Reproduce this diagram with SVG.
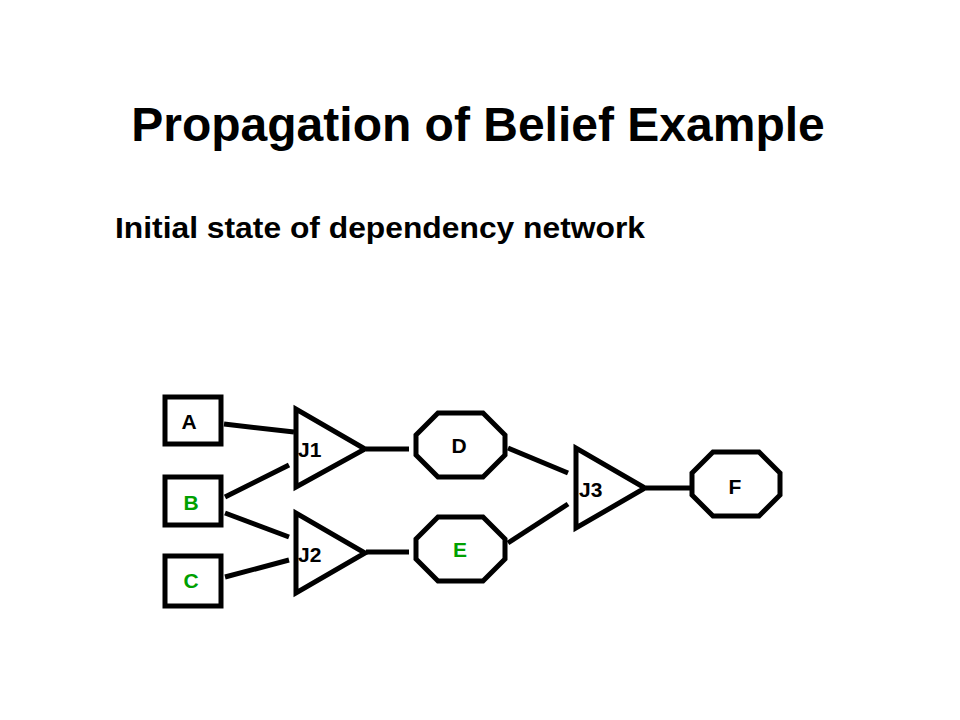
<svg xmlns="http://www.w3.org/2000/svg" width="960" height="720" viewBox="0 0 960 720">
<style>
.shape{fill:#fff;stroke:#000;stroke-width:5;stroke-linejoin:miter}
.conn line{stroke:#000;stroke-width:5}
.lbl{font-family:"Liberation Sans",Arial,sans-serif;font-weight:bold;font-size:21px;fill:#000}
.mid{text-anchor:middle}
.green{fill:#00a000}
</style>
<rect width="960" height="720" fill="#fff"/>
<text x="478" y="141" text-anchor="middle" font-family="Liberation Sans, Arial, sans-serif" font-weight="bold" font-size="48">Propagation of Belief Example</text>
<text x="115" y="238" font-family="Liberation Sans, Arial, sans-serif" font-weight="bold" font-size="30" textLength="530" lengthAdjust="spacingAndGlyphs">Initial state of dependency network</text>
<g id="connectors" class="conn">
<line x1="224" y1="424" x2="294" y2="432"/>
<line x1="225" y1="497" x2="289" y2="465"/>
<line x1="225" y1="513" x2="289" y2="537"/>
<line x1="225" y1="577" x2="289" y2="560"/>
<line x1="366" y1="449" x2="409" y2="449"/>
<line x1="366" y1="552" x2="409" y2="552"/>
<line x1="508" y1="448" x2="568" y2="473"/>
<line x1="508" y1="543" x2="568" y2="504"/>
<line x1="646" y1="488" x2="691" y2="488"/>
</g>
<g id="A"><rect class="shape" x="165" y="397" width="56" height="47"/><text class="lbl mid" x="189" y="429">A</text></g>
<g id="B"><rect class="shape" x="165" y="477" width="56" height="48"/><text class="lbl mid green" x="191" y="510">B</text></g>
<g id="C"><rect class="shape" x="165" y="556" width="56" height="50"/><text class="lbl mid green" x="191" y="588">C</text></g>
<g id="J1"><polygon class="shape" points="296,409 296,487 365,449"/><text class="lbl" x="298" y="457">J1</text></g>
<g id="J2"><polygon class="shape" points="296,513 296,593 365,553"/><text class="lbl" x="298" y="562">J2</text></g>
<g id="J3"><polygon class="shape" points="576,448 576,528 645,488"/><text class="lbl" x="579" y="497">J3</text></g>
<g id="D"><polygon class="shape" points="438,413 483,413 505,435 505,455 483,477 438,477 416,455 416,435"/><text class="lbl mid" x="459" y="453">D</text></g>
<g id="E"><polygon class="shape" points="438,517 483,517 505,539 505,559 483,581 438,581 416,559 416,539"/><text class="lbl mid green" x="460" y="557">E</text></g>
<g id="F"><polygon class="shape" points="713,452 759,452 780,473 780,495 759,516 713,516 692,495 692,473"/><text class="lbl mid" x="735" y="494">F</text></g>
</svg>
